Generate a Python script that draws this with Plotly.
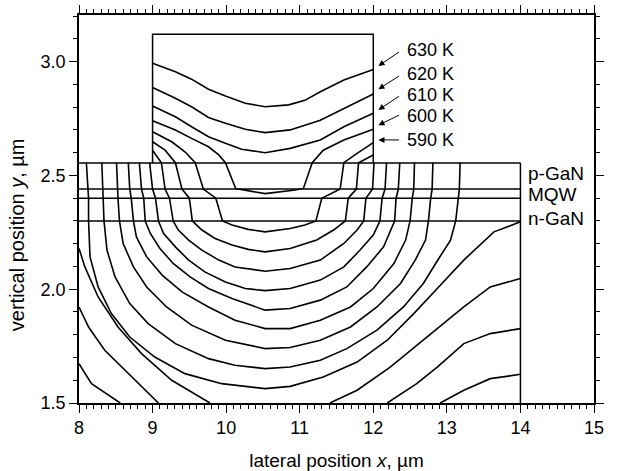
import plotly.graph_objects as go

# ---------------- structure (µm) ----------------
mesa_x = [9.0, 9.0, 12.0, 12.0]
mesa_y = [2.555, 3.12, 3.12, 2.555]
layer_y = [2.555, 2.44, 2.40, 2.30]          # p-GaN top, MQW top, MQW bottom, n-GaN bottom
layer_x = [8.0, 14.0]
border_x = [14.0, 14.0]
border_y = [1.5, 2.555]

T630_x = [9.0, 9.31, 9.53, 9.76, 9.99, 10.26, 10.53, 10.85, 11.07, 11.28, 11.6, 12.0]
T630_y = [2.993, 2.956, 2.923, 2.879, 2.849, 2.817, 2.802, 2.81, 2.83, 2.868, 2.919, 2.966]
T620_x = [9.0, 9.31, 9.53, 9.76, 9.99, 10.26, 10.53, 10.87, 11.28, 11.60, 12.0]
T620_y = [2.886, 2.839, 2.802, 2.755, 2.729, 2.703, 2.688, 2.70, 2.743, 2.795, 2.858]
T610_x = [9.0, 9.31, 9.53, 9.76, 9.99, 10.21, 10.53, 10.87, 11.28, 11.60, 12.0]
T610_y = [2.805, 2.758, 2.714, 2.670, 2.641, 2.615, 2.600, 2.619, 2.656, 2.714, 2.773]
T600_x = [9.0, 9.31, 9.53, 9.76, 9.90, 9.99, 10.13, 10.53, 10.94, 11.05, 11.17, 11.32, 11.60, 12.0]
T600_y = [2.740, 2.700, 2.663, 2.626, 2.590, 2.556, 2.442, 2.420, 2.436, 2.443, 2.556, 2.611, 2.656, 2.703]
T590_x = [9.0, 9.26, 9.44, 9.58, 9.69, 9.86, 9.95, 10.08, 10.30, 10.53, 10.87, 11.07, 11.22, 11.30, 11.55, 11.60, 11.78, 12.0]
T590_y = [2.692, 2.648, 2.604, 2.556, 2.44, 2.40, 2.30, 2.282, 2.263, 2.252, 2.267, 2.282, 2.30, 2.40, 2.44, 2.556, 2.597, 2.644]
T580_x = [9.0, 9.17, 9.31, 9.40, 9.50, 9.54, 9.67, 9.85, 10.08, 10.30, 10.53, 10.87, 11.23, 11.46, 11.62, 11.66, 11.77, 11.80, 12.0]
T580_y = [2.648, 2.611, 2.556, 2.44, 2.40, 2.30, 2.260, 2.223, 2.194, 2.175, 2.164, 2.179, 2.216, 2.260, 2.30, 2.40, 2.44, 2.556, 2.59]
T570_x = [9.0, 9.12, 9.17, 9.23, 9.28, 9.35, 9.49, 9.67, 9.90, 10.12, 10.53, 10.87, 11.28, 11.60, 11.78, 11.87, 11.90, 11.99, 12.01]
T570_y = [2.611, 2.556, 2.44, 2.40, 2.30, 2.260, 2.216, 2.172, 2.128, 2.098, 2.079, 2.091, 2.128, 2.201, 2.260, 2.30, 2.40, 2.44, 2.556]
T560_x = [8.96, 9.00, 9.04, 9.08, 9.15, 9.31, 9.49, 9.71, 9.99, 10.26, 10.53, 10.87, 11.28, 11.60, 11.82, 12.0, 12.09, 12.12, 12.16, 12.18]
T560_y = [2.556, 2.44, 2.40, 2.30, 2.245, 2.186, 2.128, 2.076, 2.032, 2.003, 1.994, 2.003, 2.04, 2.098, 2.172, 2.238, 2.30, 2.40, 2.44, 2.556]
T550_x = [8.82, 8.85, 8.88, 8.90, 8.97, 9.10, 9.28, 9.51, 9.76, 10.08, 10.53, 10.87, 11.28, 11.64, 11.91, 12.14, 12.29, 12.31, 12.34, 12.36]
T550_y = [2.556, 2.44, 2.40, 2.30, 2.245, 2.179, 2.113, 2.054, 2.003, 1.959, 1.908, 1.915, 1.952, 2.010, 2.098, 2.186, 2.30, 2.40, 2.44, 2.556]
T540_x = [8.67, 8.69, 8.71, 8.74, 8.78, 8.92, 9.13, 9.40, 9.76, 10.12, 10.53, 10.87, 11.28, 11.69, 12.0, 12.28, 12.44, 12.50, 12.53, 12.55, 12.56]
T540_y = [2.556, 2.44, 2.40, 2.30, 2.230, 2.142, 2.062, 1.988, 1.922, 1.864, 1.827, 1.827, 1.864, 1.922, 2.003, 2.113, 2.216, 2.30, 2.40, 2.44, 2.556]
T530_x = [8.51, 8.52, 8.53, 8.55, 8.60, 8.74, 8.92, 9.19, 9.53, 9.99, 10.53, 10.87, 11.28, 11.69, 12.05, 12.37, 12.57, 12.71, 12.75, 12.78, 12.80, 12.81]
T530_y = [2.556, 2.44, 2.40, 2.30, 2.201, 2.098, 2.010, 1.922, 1.842, 1.776, 1.739, 1.744, 1.776, 1.834, 1.922, 2.025, 2.128, 2.216, 2.30, 2.40, 2.44, 2.556]
T520_x = [8.31, 8.32, 8.33, 8.34, 8.38, 8.49, 8.69, 8.94, 9.31, 9.76, 10.12, 10.53, 10.87, 11.28, 11.64, 12.05, 12.41, 12.68, 12.89, 13.05, 13.12, 13.15, 13.17, 13.18]
T520_y = [2.556, 2.44, 2.40, 2.30, 2.172, 2.054, 1.937, 1.849, 1.761, 1.695, 1.666, 1.651, 1.658, 1.688, 1.739, 1.820, 1.922, 2.025, 2.135, 2.216, 2.30, 2.40, 2.44, 2.556]
T510_x = [8.10, 8.12, 8.13, 8.13, 8.15, 8.26, 8.44, 8.69, 9.03, 9.44, 9.94, 10.53, 10.87, 11.32, 11.78, 12.19, 12.55, 12.87, 13.23, 13.64, 14.0]
T510_y = [2.556, 2.44, 2.40, 2.30, 2.142, 2.010, 1.893, 1.790, 1.702, 1.629, 1.585, 1.563, 1.573, 1.614, 1.680, 1.776, 1.893, 2.003, 2.128, 2.252, 2.296]
T500L_x = [8.0, 8.08, 8.26, 8.53, 8.85, 9.26, 9.78]
T500L_y = [2.179, 2.098, 1.966, 1.834, 1.717, 1.600, 1.50]
T500R_x = [11.41, 11.78, 12.23, 12.68, 13.23, 13.59, 14.0]
T500R_y = [1.50, 1.556, 1.658, 1.776, 1.922, 2.010, 2.047]
T490L_x = [8.0, 8.13, 8.35, 8.63, 9.08]
T490L_y = [1.922, 1.834, 1.732, 1.644, 1.50]
T490R_x = [12.19, 12.59, 12.87, 13.23, 13.59, 14.0]
T490R_y = [1.50, 1.585, 1.658, 1.761, 1.805, 1.827]
T480L_x = [8.0, 8.17, 8.56]
T480L_y = [1.673, 1.585, 1.50]
T480R_x = [12.91, 13.23, 13.59, 14.0]
T480R_y = [1.50, 1.556, 1.607, 1.626]

# ---------------- labels ----------------
temp_labels = ["630 K", "620 K", "610 K", "600 K", "590 K"]
temp_text_y = [3.051, 2.944, 2.853, 2.761, 2.656]
arrow_tail_y = [3.047, 2.941, 2.852, 2.768, 2.656]
arrow_head_y = [2.981, 2.879, 2.788, 2.721, 2.656]
layer_names = ["p-GaN", "MQW", "n-GaN"]
layer_name_y = [2.509, 2.417, 2.311]

FONT = "Liberation Sans, Arial, sans-serif"
FS = 18
LW = 1.6

fig = go.Figure()

def add_line(xs, ys, w=LW):
    fig.add_trace(go.Scatter(x=xs, y=ys, mode="lines",
                             line=dict(color="black", width=w),
                             showlegend=False, hoverinfo="skip"))

# structure
add_line(mesa_x, mesa_y, 1.5)
for ly in layer_y:
    add_line(layer_x, [ly, ly], 1.5)
add_line(border_x, border_y, 1.5)

# isotherms
for xs, ys in [(T630_x, T630_y), (T620_x, T620_y), (T610_x, T610_y), (T600_x, T600_y),
               (T590_x, T590_y), (T580_x, T580_y), (T570_x, T570_y), (T560_x, T560_y),
               (T550_x, T550_y), (T540_x, T540_y), (T530_x, T530_y), (T520_x, T520_y),
               (T510_x, T510_y), (T500L_x, T500L_y), (T500R_x, T500R_y),
               (T490L_x, T490L_y), (T490R_x, T490R_y), (T480L_x, T480L_y), (T480R_x, T480R_y)]:
    add_line(xs, ys)

annotations = []
for lab, ty, tail, head in zip(temp_labels, temp_text_y, arrow_tail_y, arrow_head_y):
    annotations.append(dict(x=12.43, y=ty, text=lab, showarrow=False, xanchor="left",
                            yanchor="middle", font=dict(family=FONT, size=FS, color="black")))
    annotations.append(dict(x=12.07, y=head, ax=12.37, ay=tail, axref="x", ayref="y",
                            xref="x", yref="y", text="", showarrow=True, arrowhead=2,
                            arrowsize=1.2, arrowwidth=1, arrowcolor="black"))
for lab, ly in zip(layer_names, layer_name_y):
    annotations.append(dict(x=14.07, y=ly, text=lab, showarrow=False, xanchor="left",
                            yanchor="middle", font=dict(family=FONT, size=19, color="black")))
# y-axis title (placed as in the reference, slightly below plot centre)
annotations.append(dict(xref="paper", yref="paper", x=-0.12, y=0.433, textangle=-90,
                        text="vertical position <i>y</i>, \u00b5m", showarrow=False,
                        xanchor="center", yanchor="middle",
                        font=dict(family=FONT, size=20, color="black")))

axis_common = dict(showline=True, linecolor="black", linewidth=1.5, mirror="ticks",
                   ticks="outside", ticklen=8, tickwidth=1.3, tickcolor="black",
                   showgrid=False, zeroline=False, automargin=False,
                   tickfont=dict(family=FONT, size=FS, color="black"))

fig.update_layout(
    template="none",
    width=620, height=471,
    margin=dict(l=79, r=26, t=15, b=68),
    paper_bgcolor="white", plot_bgcolor="white",
    font=dict(family=FONT, size=FS, color="black"),
    annotations=annotations,
    xaxis=dict(range=[8, 15], dtick=1, tick0=8, ticklabelstandoff=0,
               minor=dict(dtick=0.1, ticklen=4, ticks="outside", tickcolor="black", tickwidth=1),
               title=dict(text="lateral position <i>x</i>, \u00b5m", standoff=17,
                          font=dict(family=FONT, size=19, color="black")),
               **axis_common),
    yaxis=dict(range=[1.5, 3.205], dtick=0.5, tick0=1.5, tickformat=".1f",
               minor=dict(dtick=0.1, ticklen=4, ticks="outside", tickcolor="black", tickwidth=1),
               **axis_common),
)

fig.write_html("out.html")
